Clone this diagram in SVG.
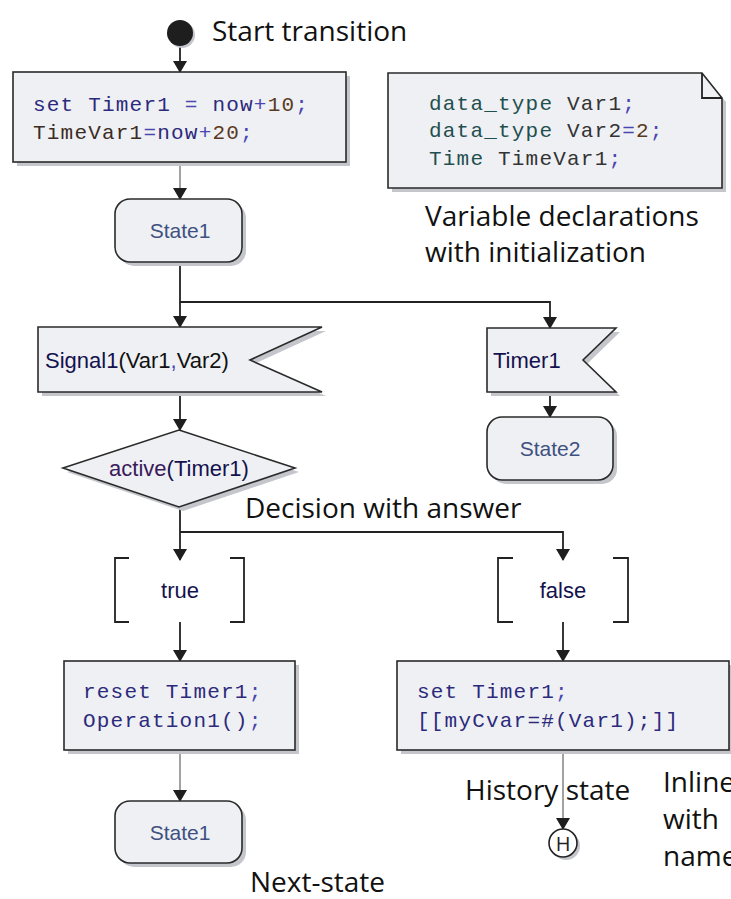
<svg xmlns="http://www.w3.org/2000/svg" width="731" height="899" viewBox="0 0 731 899">
<defs>
<style>
.sh{fill:#c4c6cc;stroke:none}
.bx{fill:#eff0f4;stroke:#2a2a2a;stroke-width:1.6}
.ln{fill:none;stroke:#222;stroke-width:1.8}
.thin{fill:none;stroke:#444;stroke-width:1}
.lbl{font-family:"Open Sans","Noto Sans",sans-serif;font-size:28px;fill:#111}
.code{font-family:"Liberation Mono","Courier New",monospace;font-size:21px;letter-spacing:1.2px}
.ar{font-family:"Liberation Sans",Arial,sans-serif;font-size:22px}
.kw{fill:#2c2a7c}
.num{fill:#5a3a1c}
.pun{fill:#4a46b0}
.dk{fill:#3a2c22}
.ty{fill:#1f4f4f}
.vr{fill:#333}
.st{fill:#3e5080;font-size:21px}
.sig{fill:#14124e}
</style>
<marker id="ah" markerWidth="12" markerHeight="14" refX="11" refY="7" orient="auto" markerUnits="userSpaceOnUse">
<path d="M0,0 L12,7 L0,14 z" fill="#1e1e1e"/>
</marker>
</defs>
<rect width="731" height="899" fill="#fff"/>

<g id="connectors">
<line class="ln" x1="180" y1="46" x2="180" y2="72" marker-end="url(#ah)"/>
<line class="thin" x1="180" y1="162" x2="180" y2="199" marker-end="url(#ah)"/>
<line class="ln" x1="180" y1="262" x2="180" y2="327" marker-end="url(#ah)"/>
<polyline class="ln" points="180,302 550,302 550,328" marker-end="url(#ah)"/>
<line class="ln" x1="180" y1="392" x2="180" y2="430" marker-end="url(#ah)"/>
<line class="ln" x1="550" y1="392" x2="550" y2="417" marker-end="url(#ah)"/>
<line class="ln" x1="180" y1="507" x2="180" y2="560" marker-end="url(#ah)"/>
<polyline class="ln" points="180,532 563,532 563,560" marker-end="url(#ah)"/>
<line class="ln" x1="180" y1="622" x2="180" y2="661" marker-end="url(#ah)"/>
<line class="ln" x1="563" y1="622" x2="563" y2="661" marker-end="url(#ah)"/>
<line class="thin" x1="180" y1="750" x2="180" y2="801" marker-end="url(#ah)"/>
<line class="thin" x1="563" y1="750" x2="563" y2="829" marker-end="url(#ah)"/>
</g>

<g id="start">
<circle cx="182" cy="35" r="13" fill="#c4c6cc"/>
<circle cx="180" cy="33" r="13" fill="#1e1e1e"/>
<text class="lbl" x="212" y="41">Start transition</text>
</g>

<g id="task1">
<rect class="sh" x="17" y="76" width="333" height="90"/>
<rect class="bx" x="13" y="72" width="333" height="90"/>
<text class="code" x="33" y="111"><tspan class="kw">set Timer1 </tspan><tspan class="pun">=</tspan><tspan class="kw"> now</tspan><tspan class="pun">+</tspan><tspan class="num">10</tspan><tspan class="pun">;</tspan></text>
<text class="code" x="33" y="139"><tspan class="dk">TimeVar1</tspan><tspan class="pun">=</tspan><tspan class="kw">now</tspan><tspan class="pun">+</tspan><tspan class="num">20</tspan><tspan class="pun">;</tspan></text>
</g>

<g id="decl">
<path class="sh" d="M392,77 H706 L726,102 V192 H392 Z"/>
<path class="bx" d="M388,73 H702 L722,98 V188 H388 Z"/>
<path class="ln" d="M702,73 V98 H722" stroke-width="1.6"/>
<text class="code" x="429" y="110"><tspan class="ty">data_type</tspan><tspan class="vr"> Var1</tspan><tspan class="pun">;</tspan></text>
<text class="code" x="429" y="137"><tspan class="ty">data_type</tspan><tspan class="vr"> Var2</tspan><tspan class="pun">=</tspan><tspan class="num">2</tspan><tspan class="pun">;</tspan></text>
<text class="code" x="429" y="165"><tspan class="ty">Time</tspan><tspan class="vr"> TimeVar1</tspan><tspan class="pun">;</tspan></text>
<text class="lbl" x="425" y="226">Variable declarations</text>
<text class="lbl" x="425" y="262">with initialization</text>
</g>

<g id="state1a">
<rect class="sh" x="119" y="203" width="127" height="63" rx="15"/>
<rect class="bx" x="115" y="199" width="127" height="63" rx="15"/>
<text class="ar st" x="180" y="238" text-anchor="middle">State1</text>
</g>

<g id="signal1">
<polygon class="sh" points="42,331 326,331 254,364 326,396 42,396"/>
<polygon class="bx" points="38,327 322,327 250,360 322,392 38,392"/>
<text class="ar" x="45" y="368"><tspan class="sig">Signal1</tspan><tspan fill="#111">(Var1</tspan><tspan class="pun">,</tspan><tspan fill="#111">Var2)</tspan></text>
</g>

<g id="timer1">
<polygon class="sh" points="491,332 620,332 587,364 620,396 491,396"/>
<polygon class="bx" points="487,328 616,328 583,360 616,392 487,392"/>
<text class="ar sig" x="493" y="368">Timer1</text>
</g>

<g id="state2">
<rect class="sh" x="491" y="421" width="126" height="63" rx="15"/>
<rect class="bx" x="487" y="417" width="126" height="63" rx="15"/>
<text class="ar st" x="550" y="456" text-anchor="middle">State2</text>
</g>

<g id="decision">
<polygon class="sh" points="183,434 299,472 183,511 67,472"/>
<polygon class="bx" points="179,430 295,468 179,507 63,468"/>
<text class="ar" x="179" y="476" text-anchor="middle"><tspan fill="#3a1a5a">active</tspan><tspan class="sig">(Timer1)</tspan></text>
<text class="lbl" x="245" y="518">Decision with answer</text>
</g>

<g id="answerTrue">
<path class="ln" d="M129,558 H115 V622 H129 M230,558 H244 V622 H230" stroke-width="1.6"/>
<text class="ar sig" x="180" y="598" text-anchor="middle">true</text>
</g>

<g id="answerFalse">
<path class="ln" d="M513,558 H498 V622 H513 M613,558 H628 V622 H613" stroke-width="1.6"/>
<text class="ar sig" x="563" y="598" text-anchor="middle">false</text>
</g>

<g id="task2">
<rect class="sh" x="68" y="665" width="231" height="89"/>
<rect class="bx" x="64" y="661" width="231" height="89"/>
<text class="code" x="83" y="698"><tspan class="kw">reset Timer1</tspan><tspan class="pun">;</tspan></text>
<text class="code" x="83" y="727"><tspan class="kw">Operation1()</tspan><tspan class="pun">;</tspan></text>
</g>

<g id="task3">
<rect class="sh" x="401" y="665" width="332" height="89"/>
<rect class="bx" x="397" y="661" width="332" height="89"/>
<text class="code" x="417" y="698"><tspan class="kw">set Timer1</tspan><tspan class="pun">;</tspan></text>
<text class="code kw" x="417" y="727">[[myCvar=#(Var1);]]</text>
</g>

<g id="state1b">
<rect class="sh" x="119" y="805" width="127" height="62" rx="15"/>
<rect class="bx" x="115" y="801" width="127" height="62" rx="15"/>
<text class="ar st" x="180" y="840" text-anchor="middle">State1</text>
<text class="lbl" x="250" y="892">Next-state</text>
</g>

<g id="history">
<circle cx="566" cy="846" r="14" fill="#c4c6cc"/>
<circle cx="563" cy="843" r="14" fill="#fff" stroke="#222" stroke-width="1.6"/>
<text x="563" y="851" text-anchor="middle" font-family="Open Sans, sans-serif" font-size="20" fill="#222">H</text>
<text class="lbl" x="465" y="800">History state</text>
</g>

<g id="inlineNote">
<text class="lbl" x="663" y="792">Inline</text>
<text class="lbl" x="663" y="829">with</text>
<text class="lbl" x="663" y="866">name</text>
</g>
</svg>
